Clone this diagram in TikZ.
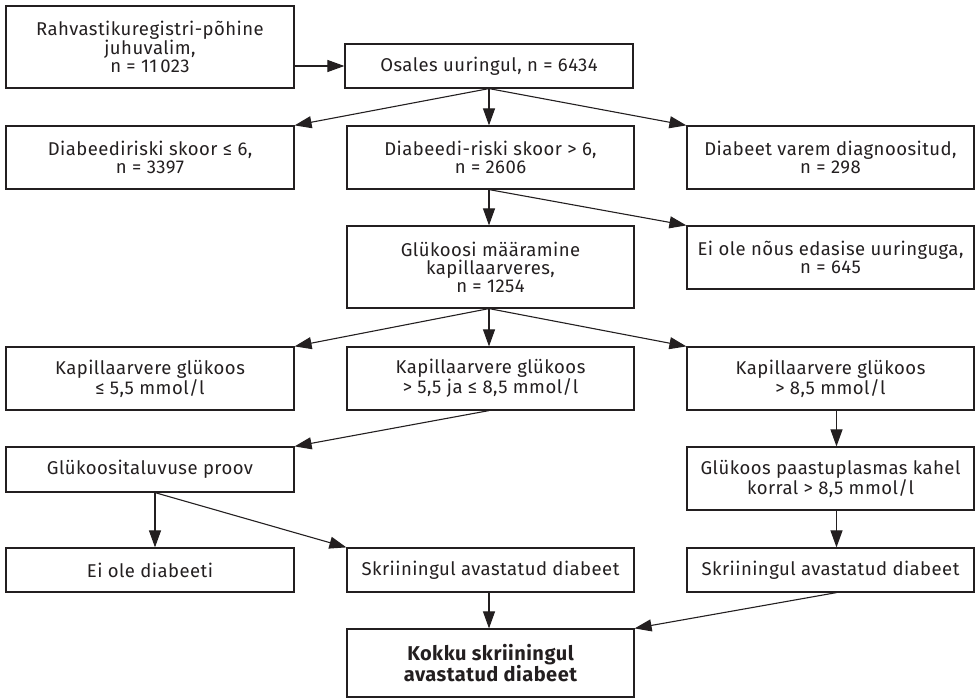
\documentclass[tikz,border=0pt]{standalone}
\usepackage{fontspec}
\setmainfont{Fira Sans}[LetterSpace=2.5]
\usetikzlibrary{arrows.meta}
\definecolor{ink}{HTML}{231F20}
\begin{document}
\begin{tikzpicture}[x=1pt,y=-1pt,
  box/.style={draw=ink,line width=1.2pt,text=ink,align=center,inner sep=0pt,
    font=\fontsize{18.5}{18}\selectfont,minimum width=287pt},
  arr/.style={draw=ink,line width=1.1pt,-{Triangle[length=17pt,width=12pt]},shorten >=0pt}]
\useasboundingbox (0,0) rectangle (977,698);
\node[box,minimum width=288pt,minimum height=82pt] (n1) at (150,47) {Rahvastikuregistri-põhine\\juhuvalim,\\n = 11\,023};
\node[box,minimum width=288pt,minimum height=44pt] (os) at (489,66) {Osales uuringul, n = 6434};
\node[box,minimum width=288pt,minimum height=63pt] (r2l) at (150,157.5) {Diabeediriski skoor ≤ 6,\\n = 3397};
\node[box,minimum height=63pt] (r2m) at (490.5,157.5) {Diabeedi-riski skoor > 6,\\n = 2606};
\node[box,minimum height=63pt] (r2r) at (830.5,157.5) {Diabeet varem diagnoositud,\\n = 298};
\node[box,minimum height=82pt] (glu) at (490.5,267) {Glükoosi määramine\\kapillaarveres,\\n = 1254};
\node[box,minimum height=63pt] (ei) at (830.5,257.5) {Ei ole nõus edasise uuringuga,\\n = 645};
\node[box,minimum width=288pt,minimum height=63pt] (r4l) at (150,378.5) {Kapillaarvere glükoos\\≤ 5,5 mmol/l};
\node[box,minimum height=63pt] (r4m) at (490.5,378.5) {Kapillaarvere glükoos\\> 5,5 ja ≤ 8,5 mmol/l};
\node[box,minimum height=63pt] (r4r) at (830.5,378.5) {Kapillaarvere glükoos\\> 8,5 mmol/l};
\node[box,minimum width=288pt,minimum height=45pt] (tal) at (150,469.5) {Glükoositaluvuse proov};
\node[box,minimum height=63pt] (paa) at (830.5,478.5) {Glükoos paastuplasmas kahel\\korral > 8,5 mmol/l};
\node[box,minimum width=288pt,minimum height=44pt] (r6l) at (150,570) {Ei ole diabeeti};
\node[box,minimum height=44pt] (r6m) at (490.5,570) {Skriiningul avastatud diabeet};
\node[box,minimum height=44pt] (r6r) at (830.5,570) {Skriiningul avastatud diabeet};
\node[box,minimum height=68pt,font=\fontsize{20}{20}\selectfont\bfseries] (kok) at (490.5,663) {Kokku skriiningul\\avastatud diabeet};
\draw[arr] (n1.east |- os.west) -- (os.west);
\draw[arr] (os.south) -- (r2l.north east);
\draw[arr] (os.south) -- (os.south |- r2m.north);
\draw[arr] (os.south) -- (r2r.north west);
\draw[arr] (os.south |- r2m.south) -- (os.south |- glu.north);
\draw[arr] (os.south |- r2m.south) -- (ei.north west);
\draw[arr] (os.south |- glu.south) -- (r4l.north east);
\draw[arr] (os.south |- glu.south) -- (os.south |- r4m.north);
\draw[arr] (os.south |- glu.south) -- (r4r.north west);
\draw[arr] (os.south |- r4m.south) -- (tal.north east);
\draw[arr] ([xshift=6pt]r4r.south) -- ([xshift=6pt]paa.north);
\draw[arr] ([xshift=5pt]tal.south) -- ([xshift=5pt]r6l.north);
\draw[arr] ([xshift=5pt]tal.south) -- (r6m.north west);
\draw[arr] ([xshift=6pt]paa.south) -- ([xshift=6pt]r6r.north);
\draw[arr] (os.south |- r6m.south) -- (os.south |- kok.north);
\draw[arr] ([xshift=6pt]r6r.south) -- (kok.north east);
\end{tikzpicture}
\end{document}
